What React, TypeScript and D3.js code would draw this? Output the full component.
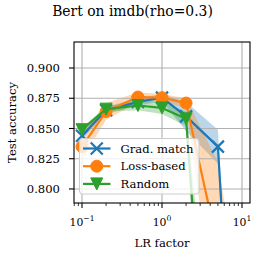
import { useEffect, useRef } from 'react';
import * as d3 from 'd3';

// chart data
const lr_factors = [0.1, 0.2, 0.5, 1, 2, 5, 10];

const grad_mean = [0.844, 0.865, 0.872, 0.8755, 0.86, 0.835, 0.5];
const grad_std = [0.003, 0.003, 0.003, 0.003, 0.012, 0.014, 0.0];

const loss_mean = [0.835, 0.864, 0.876, 0.8755, 0.871, 0.752, 0.6];
const loss_std = [0.01, 0.007, 0.004, 0.003, 0.004, 0.07, 0.1];

const random_mean = [0.849, 0.866, 0.869, 0.867, 0.858, 0.5, 0.5];
const random_std = [0.002, 0.002, 0.004, 0.005, 0.006, 0.1, 0.1];

const series_names = ['Grad. match', 'Loss-based', 'Random'];

const x_ticks = [0.1, 1, 10];
const x_tick_exponents = ['\u22121', '0', '1'];
const y_ticks = [0.8, 0.825, 0.85, 0.875, 0.9];

const chart_title = 'Bert on imdb(rho=0.3)';
const x_label = 'LR factor';
const y_label = 'Test accuracy';

export default function App() {
    const ref = useRef<SVGSVGElement>(null);

    useEffect(() => {
        // constants
        const width = 265;
        const height = 265;
        const left = 74;
        const right = 250;
        const top = 42;
        const bottom = 203;
        const font = "'DejaVu Serif', serif";

        const svg = d3.select(ref.current);
        svg.selectAll('*').remove();

        svg.append('rect')
            .attr('width', width)
            .attr('height', height)
            .attr('fill', '#ffffff');

        // scales
        const x_scale = d3.scaleLog()
            .domain([Math.pow(10, -1.1), Math.pow(10, 1.1)])
            .range([left, right]);

        const y_scale = d3.scaleLinear()
            .domain([0.7884, 0.9215])
            .range([bottom, top]);

        svg.append('clipPath')
            .attr('id', 'plot-clip')
            .append('rect')
            .attr('x', left)
            .attr('y', top)
            .attr('width', right - left)
            .attr('height', bottom - top);

        const series = [
            { name: series_names[0], mean: grad_mean, std: grad_std, color: '#1f77b4', marker: 'x' },
            { name: series_names[1], mean: loss_mean, std: loss_std, color: '#ff7f0e', marker: 'o' },
            { name: series_names[2], mean: random_mean, std: random_std, color: '#2ca02c', marker: 'v' },
        ];

        const plot = svg.append('g').attr('clip-path', 'url(#plot-clip)');

        // std bands
        series.forEach(function (s) {
            const area = d3.area<number>()
                .x((d, i) => x_scale(lr_factors[i]))
                .y0((d, i) => y_scale(s.mean[i] - s.std[i]))
                .y1((d, i) => y_scale(s.mean[i] + s.std[i]));
            plot.append('path')
                .attr('d', area(s.mean))
                .attr('fill', s.color)
                .attr('fill-opacity', 0.3);
        });

        // grid
        x_ticks.forEach(function (t) {
            plot.append('line')
                .attr('x1', x_scale(t)).attr('x2', x_scale(t))
                .attr('y1', top).attr('y2', bottom)
                .attr('stroke', '#b0b0b0').attr('stroke-width', 1.1);
        });
        y_ticks.forEach(function (t) {
            plot.append('line')
                .attr('x1', left).attr('x2', right)
                .attr('y1', y_scale(t)).attr('y2', y_scale(t))
                .attr('stroke', '#b0b0b0').attr('stroke-width', 1.1);
        });

        function drawMarker(g: any, marker: string, color: string, cx: number, cy: number) {
            if (marker === 'x') {
                g.append('path')
                    .attr('d', `M${cx - 6},${cy - 6}L${cx + 6},${cy + 6}M${cx - 6},${cy + 6}L${cx + 6},${cy - 6}`)
                    .attr('stroke', color).attr('stroke-width', 2.2).attr('fill', 'none');
            } else if (marker === 'o') {
                g.append('circle')
                    .attr('cx', cx).attr('cy', cy).attr('r', 6)
                    .attr('fill', color).attr('stroke', color).attr('stroke-width', 1);
            } else {
                g.append('path')
                    .attr('d', `M${cx},${cy + 6}L${cx - 6},${cy - 6}L${cx + 6},${cy - 6}Z`)
                    .attr('fill', color).attr('stroke', color).attr('stroke-width', 1)
                    .attr('stroke-linejoin', 'miter');
            }
        }

        // lines and markers
        series.forEach(function (s) {
            const line = d3.line<number>()
                .x((d, i) => x_scale(lr_factors[i]))
                .y(d => y_scale(d));
            plot.append('path')
                .attr('d', line(s.mean))
                .attr('fill', 'none')
                .attr('stroke', s.color)
                .attr('stroke-width', 2.2)
                .attr('stroke-linejoin', 'round');
            s.mean.forEach(function (d, i) {
                drawMarker(plot, s.marker, s.color, x_scale(lr_factors[i]), y_scale(d));
            });
        });

        // spines
        svg.append('rect')
            .attr('x', left).attr('y', top)
            .attr('width', right - left).attr('height', bottom - top)
            .attr('fill', 'none').attr('stroke', '#000').attr('stroke-width', 1.1);

        // x ticks (major + minor)
        const [x_lo, x_hi] = x_scale.domain();
        const minor_ticks: number[] = [];
        [0.01, 0.1, 1, 10].forEach(function (dec) {
            for (let k = 2; k <= 9; k++) {
                const v = dec * k;
                if (v >= x_lo && v <= x_hi) minor_ticks.push(v);
            }
        });
        minor_ticks.forEach(function (t) {
            svg.append('line')
                .attr('x1', x_scale(t)).attr('x2', x_scale(t))
                .attr('y1', bottom).attr('y2', bottom + 3)
                .attr('stroke', '#000').attr('stroke-width', 0.8);
        });
        x_ticks.forEach(function (t, i) {
            svg.append('line')
                .attr('x1', x_scale(t)).attr('x2', x_scale(t))
                .attr('y1', bottom).attr('y2', bottom + 5)
                .attr('stroke', '#000').attr('stroke-width', 1.1);
            const label = svg.append('text')
                .attr('x', x_scale(t))
                .attr('y', 225.5)
                .attr('text-anchor', 'middle')
                .attr('font-family', font)
                .attr('font-size', 10.8)
                .attr('fill', '#000');
            label.append('tspan').text('10');
            label.append('tspan')
                .attr('dy', -4.5)
                .attr('font-size', 7.6)
                .text(x_tick_exponents[i]);
        });

        // y ticks
        y_ticks.forEach(function (t) {
            svg.append('line')
                .attr('x1', left - 5).attr('x2', left)
                .attr('y1', y_scale(t)).attr('y2', y_scale(t))
                .attr('stroke', '#000').attr('stroke-width', 1.1);
            svg.append('text')
                .attr('x', left - 14)
                .attr('y', y_scale(t))
                .attr('dy', '0.36em')
                .attr('text-anchor', 'end')
                .attr('font-family', font)
                .attr('font-size', 11.6)
                .attr('fill', '#000')
                .text(d3.format('.3f')(t));
        });

        // axis labels
        svg.append('text')
            .attr('x', (left + right) / 2)
            .attr('y', 247)
            .attr('text-anchor', 'middle')
            .attr('font-family', font)
            .attr('font-size', 11.6)
            .text(x_label);

        svg.append('text')
            .attr('transform', `translate(16, ${(top + bottom) / 2}) rotate(-90)`)
            .attr('text-anchor', 'middle')
            .attr('font-family', font)
            .attr('font-size', 11.6)
            .text(y_label);

        // title
        svg.append('text')
            .attr('x', width / 2)
            .attr('y', 15.5)
            .attr('text-anchor', 'middle')
            .attr('font-family', font)
            .attr('font-size', 13.9)
            .text(chart_title);

        // legend
        const legend = svg.append('g');
        legend.append('rect')
            .attr('x', 79.5).attr('y', 138.5)
            .attr('width', 119.5).attr('height', 55.5)
            .attr('rx', 3)
            .attr('fill', '#ffffff').attr('fill-opacity', 0.8)
            .attr('stroke', '#cccccc').attr('stroke-width', 1);
        series.forEach(function (s, i) {
            const row_y = 148.5 + i * 17.7;
            legend.append('line')
                .attr('x1', 83).attr('x2', 110.5)
                .attr('y1', row_y).attr('y2', row_y)
                .attr('stroke', s.color).attr('stroke-width', 2.2);
            drawMarker(legend, s.marker, s.color, 96.75, row_y);
            legend.append('text')
                .attr('x', 120.5)
                .attr('y', row_y)
                .attr('dy', '0.36em')
                .attr('font-family', font)
                .attr('font-size', 11.6)
                .text(s.name);
        });
    }, []);

    return (
        <svg
            ref={ref}
            width={265}
            height={265}
            style={{ position: 'absolute', left: 0, top: 0 }}
        />
    );
}
